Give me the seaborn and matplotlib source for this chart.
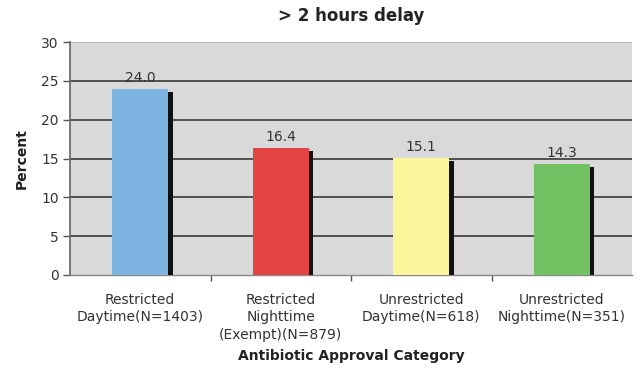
import matplotlib
matplotlib.use("Agg")
import matplotlib.pyplot as plt
import matplotlib.patheffects as pe
import seaborn as sns
import pandas as pd

categories = ["Restricted\nDaytime(N=1403)", "Restricted\nNighttime\n(Exempt)(N=879)",
              "Unrestricted\nDaytime(N=618)", "Unrestricted\nNighttime(N=351)"]
values = [24.0, 16.4, 15.1, 14.3]
colors = ["#7EB4E2", "#E24444", "#FBF59B", "#72C264"]
yticks = [0, 5, 10, 15, 20, 25, 30]

sns.set_theme(style="white")
plt.rcParams['font.family'] = ['DejaVu Sans']

df = pd.DataFrame({"cat": categories, "val": values})
fig = plt.figure(figsize=(6.44, 3.70), dpi=100)
ax = fig.add_axes([70/644, 1-275/370, (632-70)/644, (275-42)/370])
ax.set_facecolor("#D9D9D9")

sns.barplot(data=df, x="cat", y="val", hue="cat", palette=colors, legend=False,
            width=0.4, ax=ax, zorder=3, linewidth=0, saturation=1)
for p in ax.patches:
    p.set_path_effects([pe.SimplePatchShadow(offset=(3, -2.5), shadow_rgbFace="#111111", alpha=1.0), pe.Normal()])

for i, v in enumerate(values):
    ax.text(i, v + 0.5, f"{v:.1f}", ha="center", va="bottom", fontsize=10, color="#333333", zorder=4)

ax.set_ylim(0, 30)
ax.set_xlim(-0.5, 3.5)
ax.set_yticks(yticks)
for y in yticks[1:-1]:
    ax.axhline(y, color="#444444", linewidth=1.3, zorder=1)
ax.axhline(30, color="#AAAAAA", linewidth=1.2, zorder=1)
for s in ["top", "right"]:
    ax.spines[s].set_visible(False)
ax.spines["left"].set_color("#666666")
ax.spines["left"].set_linewidth(1.2)
ax.spines["bottom"].set_color("#888888")
ax.spines["bottom"].set_linewidth(1.0)

ax.tick_params(axis="y", which="major", left=True, length=5, width=1, color="#555555",
               labelsize=10, labelcolor="#333333", pad=3)
ax.set_xticks(range(4))
ax.set_xticklabels(categories, linespacing=1.3)
ax.tick_params(axis="x", which="major", length=0, labelsize=10, labelcolor="#333333", pad=13)
ax.set_xticks([0.5, 1.5, 2.5], minor=True)
ax.tick_params(axis="x", which="minor", bottom=True, length=4, width=1, color="#555555")

ax.set_xlabel("Antibiotic Approval Category", fontsize=10, fontweight="bold", color="#222222", labelpad=5)
ax.set_ylabel("Percent", fontsize=10, fontweight="bold", color="#222222", labelpad=9)
ax.set_title("> 2 hours delay", fontsize=12, fontweight="bold", color="#222222", pad=15)

fig.savefig("out.png", dpi=100)
